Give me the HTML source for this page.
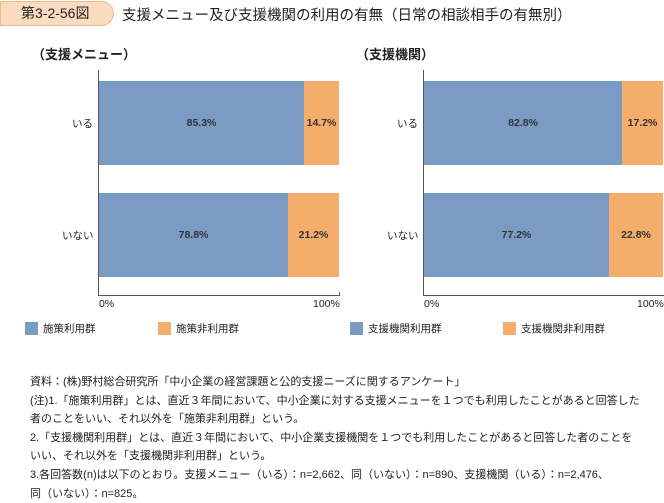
<!DOCTYPE html>
<html><head><meta charset="utf-8"><style>
body{margin:0;width:664px;height:500px;background:#fff;font-family:"Liberation Sans","Noto Sans CJK JP",sans-serif;color:#222;position:relative;overflow:hidden}
.a{position:absolute;white-space:nowrap}
.pill{left:0;top:1px;width:114px;height:25px;background:#fcdcc0;border:1px solid #f3b98b;border-radius:0 13px 13px 0;box-sizing:border-box;font-size:14px;line-height:23px;padding-left:20px}
.t{font-size:14.5px;top:4px;left:122px}
.sub{font-size:13px;font-weight:bold}
.bar{position:absolute;height:84px}
.b{background:#7a9cc4}.o{background:#f5ad6c}
.lbl{font-size:10.5px;color:#222}
.v{font-size:10.5px;text-align:center;line-height:84px;font-weight:bold;color:#333}
.ax{position:absolute;background:#555}
.lg{position:absolute;width:13px;height:13px}
.fn{font-size:11px;left:30px;line-height:18.6px}
</style></head><body>
<div class="a pill">第3-2-56図</div>
<div class="a t">支援メニュー及び支援機関の利用の有無（日常の相談相手の有無別）</div>
<div class="a sub" style="left:32px;top:44px">（支援メニュー）</div>
<div class="a sub" style="left:356px;top:44px">（支援機関）</div>

<div class="ax" style="left:98px;top:70px;width:1px;height:226px"></div>
<div class="ax" style="left:98px;top:295px;width:242px;height:1px"></div>
<div class="ax" style="left:339px;top:292px;width:1px;height:4px"></div>
<div class="bar b v" style="left:99px;top:81px;width:205px">85.3%</div>
<div class="bar o v" style="left:304px;top:81px;width:35px">14.7%</div>
<div class="bar b v" style="left:99px;top:193px;width:189px">78.8%</div>
<div class="bar o v" style="left:288px;top:193px;width:51px">21.2%</div>
<div class="a lbl" style="left:72px;top:116px">いる</div>
<div class="a lbl" style="left:62px;top:228px">いない</div>
<div class="a lbl" style="left:99px;top:298px">0%</div>
<div class="a lbl" style="left:313px;top:298px">100%</div>

<div class="ax" style="left:423px;top:70px;width:1px;height:226px"></div>
<div class="ax" style="left:423px;top:295px;width:241px;height:1px"></div>
<div class="bar b v" style="left:424px;top:81px;width:198px">82.8%</div>
<div class="bar o v" style="left:622px;top:81px;width:41px">17.2%</div>
<div class="bar b v" style="left:424px;top:193px;width:185px">77.2%</div>
<div class="bar o v" style="left:609px;top:193px;width:54px">22.8%</div>
<div class="a lbl" style="left:397px;top:116px">いる</div>
<div class="a lbl" style="left:387px;top:228px">いない</div>
<div class="a lbl" style="left:424px;top:298px">0%</div>
<div class="a lbl" style="left:637px;top:298px">100%</div>

<div class="lg b" style="left:25px;top:322px"></div><div class="a lbl" style="left:43px;top:321px">施策利用群</div>
<div class="lg o" style="left:158px;top:322px"></div><div class="a lbl" style="left:176px;top:321px">施策非利用群</div>
<div class="lg b" style="left:350px;top:322px"></div><div class="a lbl" style="left:368px;top:321px">支援機関利用群</div>
<div class="lg o" style="left:503px;top:322px"></div><div class="a lbl" style="left:521px;top:321px">支援機関非利用群</div>

<div class="a fn" style="top:373px">資料：(株)野村総合研究所「中小企業の経営課題と公的支援ニーズに関するアンケート」<br>(注)1.「施策利用群」とは、直近３年間において、中小企業に対する支援メニューを１つでも利用したことがあると回答した<br>者のことをいい、それ以外を「施策非利用群」という。<br>2.「支援機関利用群」とは、直近３年間において、中小企業支援機関を１つでも利用したことがあると回答した者のことを<br>いい、それ以外を「支援機関非利用群」という。<br>3.各回答数(n)は以下のとおり。支援メニュー（いる）：n=2,662、同（いない）：n=890、支援機関（いる）：n=2,476、<br>同（いない）：n=825。</div>
</body></html>
